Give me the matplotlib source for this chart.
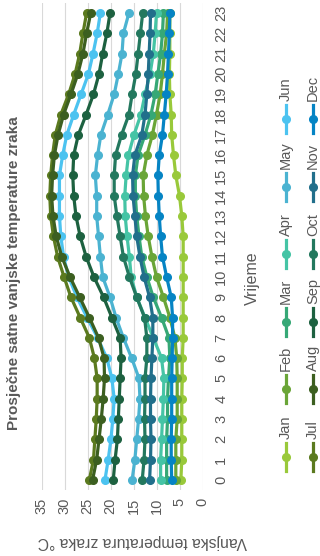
import matplotlib
matplotlib.use("Agg")
import matplotlib.pyplot as plt
from matplotlib.lines import Line2D

plt.rcParams['font.family'] = ['Liberation Sans', 'DejaVu Sans']

hours = list(range(24))
months = ['Jan', 'Feb', 'Mar', 'Apr', 'May', 'Jun',
          'Jul', 'Aug', 'Sep', 'Oct', 'Nov', 'Dec']

jan = [4.7, 4.5, 4.5, 4.5, 4.5, 4.4, 4.4, 4.2, 4.2, 4.2, 4.2, 4.2,
       4.2, 4.5, 5.0, 5.8, 6.3, 6.7, 6.8, 7.1, 7.2, 7.1, 7.1, 7.1]
feb = [5.8, 5.8, 5.8, 5.5, 5.5, 5.5, 5.6, 6.0, 7.1, 8.5, 10.0, 11.0,
       11.8, 12.4, 12.8, 12.9, 12.1, 10.9, 10.0, 9.2, 8.7, 8.3, 7.8, 7.6]
mar = [7.8, 7.8, 7.8, 7.6, 7.6, 7.4, 7.1, 7.3, 8.9, 10.7, 12.1, 13.2,
       13.8, 14.3, 14.6, 14.6, 14.0, 12.5, 11.2, 10.3, 9.7, 9.1, 8.7, 8.5]
apr = [9.1, 9.1, 8.9, 8.7, 8.5, 8.4, 8.9, 10.7, 12.5, 14.3, 15.5, 15.9,
       16.4, 16.8, 16.9, 16.6, 16.1, 14.9, 13.4, 12.5, 11.4, 10.7, 10.3, 10.0]
may = [15.3, 14.7, 14.3, 13.9, 13.6, 13.8, 15.4, 17.2, 18.8, 20.1, 21.7, 22.2,
       22.6, 23.0, 23.0, 23.3, 22.8, 22.1, 20.6, 19.2, 18.3, 17.5, 17.2, 16.0]
jun = [21.2, 20.5, 19.9, 19.5, 19.2, 19.7, 20.8, 22.8, 25.1, 27.3, 29.1, 30.2,
       30.8, 31.1, 31.1, 31.1, 30.4, 29.5, 28.0, 26.4, 24.8, 23.8, 22.9, 22.2]
jul = [24.6, 23.7, 23.4, 23.1, 22.9, 22.9, 23.5, 24.6, 26.6, 28.6, 30.1, 31.5,
       32.4, 33.0, 33.2, 33.0, 32.6, 32.0, 30.8, 29.1, 27.7, 26.7, 26.0, 25.2]
aug = [23.9, 23.0, 22.5, 22.0, 21.6, 21.3, 21.4, 22.6, 24.6, 26.7, 28.8, 30.6,
       31.8, 32.5, 32.8, 32.6, 32.2, 31.4, 30.2, 28.6, 27.1, 26.0, 25.2, 24.3]
sep = [19.4, 19.0, 18.5, 18.3, 18.1, 17.9, 17.7, 17.9, 19.7, 21.5, 23.6, 25.3,
       26.6, 27.5, 28.0, 28.2, 28.0, 27.0, 25.3, 23.7, 22.5, 21.7, 20.8, 20.1]
oct_ = [13.1, 12.7, 12.5, 12.6, 12.5, 12.5, 12.1, 12.1, 12.6, 14.3, 15.9, 17.2,
        17.9, 18.6, 19.2, 19.2, 18.9, 17.6, 16.0, 15.3, 14.5, 14.0, 13.5, 13.0]
nov = [11.5, 11.3, 11.2, 11.3, 11.3, 11.2, 11.0, 10.8, 10.8, 11.5, 12.7, 13.6,
       14.3, 14.7, 15.1, 15.2, 14.7, 13.2, 12.5, 12.1, 11.8, 11.6, 11.4, 11.3]
dec = [6.7, 6.8, 6.8, 6.7, 6.7, 6.7, 6.6, 6.5, 6.5, 6.8, 7.8, 8.7,
       9.1, 9.4, 9.6, 9.7, 9.4, 8.7, 8.3, 7.9, 7.6, 7.4, 7.2, 7.1]

series = [jan, feb, mar, apr, may, jun, jul, aug, sep, oct_, nov, dec]
colors = ['#99c93a', '#6aa537', '#36a876', '#45c4a5', '#4bb3d1', '#4cc3f0',
          '#5b7a1f', '#3c5f20', '#1d6140', '#23785e', '#216f8b', '#0584c4']

temp_ticks = [0, 5, 10, 15, 20, 25, 30, 35]
grey = '#595959'

W, H = 320, 556
fig = plt.figure(figsize=(W / 100, H / 100), dpi=100)
ax = fig.add_axes([41.5 / W, 66 / H, 161 / W, 487 / H])

for vals, c in zip(series, colors):
    ax.plot(vals, hours, color=c, lw=2.3, marker='o', ms=5.5,
            solid_capstyle='round')

ax.set_xlim(35, 0)
ax.set_ylim(-0.5, 23.5)
ax.set_xticks(temp_ticks)
ax.set_xticklabels([str(t) for t in temp_ticks], rotation=90)
ax.set_yticks(hours)
ax.set_yticklabels([str(h) for h in hours], rotation=90, va='center')
ax.yaxis.tick_right()
ax.tick_params(axis='x', length=0, pad=5.5, labelsize=10.5, labelcolor=grey)
ax.tick_params(axis='y', length=0, pad=8.5, labelsize=10.5, labelcolor=grey)
ax.grid(axis='x', color='#d9d9d9', lw=0.8)
ax.set_axisbelow(True)
for s in ax.spines.values():
    s.set_visible(False)

fig.text(14 / W, 1 - 273 / H, 'Prosječne satne vanjske temperature zraka',
         rotation=90, ha='center', va='center', fontsize=11,
         fontweight='bold', color=grey)
fig.text(252 / W, 1 - 278 / H, 'Vrijeme', rotation=90, ha='center',
         va='center', fontsize=11.5, color=grey)
fig.text(142 / W, 1 - 541 / H, 'Vanjska temperatura zraka °C', rotation=180,
         ha='center', va='center', fontsize=11.3, color=grey)

# legend drawn by hand, rotated like the rest
for i, (m, c) in enumerate(zip(months, colors)):
    x = [286, 313][i // 6] / W
    y = 457 - 67.6 * (i % 6)
    fig.add_artist(Line2D([x, x], [1 - (y + 14) / H, 1 - (y - 14) / H],
                          transform=fig.transFigure, color=c, lw=2.3))
    fig.add_artist(Line2D([x], [1 - y / H], transform=fig.transFigure,
                          color=c, marker='o', ms=5.5))
    fig.text(x, 1 - (y - 18) / H, m, rotation=90, ha='center', va='bottom',
             fontsize=10.5, color=grey)

fig.savefig('out.png', dpi=100)
